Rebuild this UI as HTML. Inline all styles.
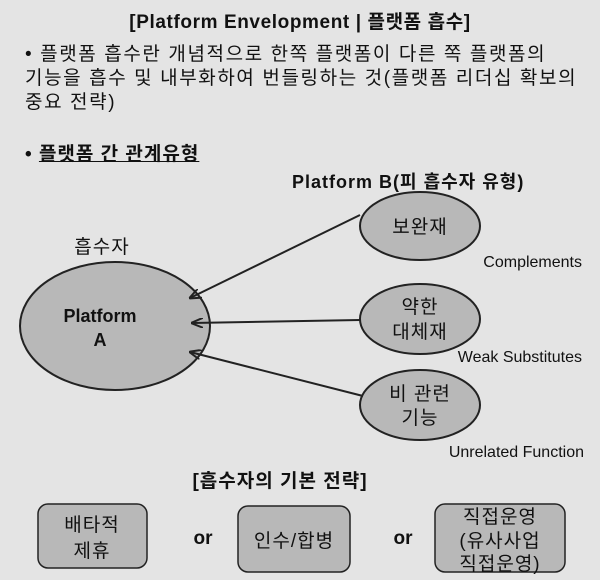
<!DOCTYPE html>
<html><head><meta charset="utf-8"><style>
body{margin:0;width:600px;height:580px;background:#e4e4e4;font-family:"Liberation Sans","Noto Sans CJK KR",sans-serif;color:#111;position:relative;overflow:hidden}
.t{position:absolute;white-space:nowrap}
</style></head><body>
<div class="t" style="left:0;width:600px;text-align:center;top:7px;font-size:19px;font-weight:bold;letter-spacing:0.6px">[Platform Envelopment | 플랫폼 흡수]</div>
<div class="t" style="left:25px;top:43px;font-size:19px;line-height:24px;letter-spacing:1.6px">• 플랫폼 흡수란 개념적으로 한쪽 플랫폼이 다른 쪽 플랫폼의<br>기능을 흡수 및 내부화하여 번들링하는 것(플랫폼 리더십 확보의<br>중요 전략)</div>
<div class="t" style="left:25px;top:139px;font-size:19px;font-weight:bold;letter-spacing:1px">• <span style="text-decoration:underline">플랫폼 간 관계유형</span></div>
<svg width="600" height="580" style="position:absolute;left:0;top:0" font-family="Liberation Sans, Noto Sans CJK KR, sans-serif">
<defs><marker id="a" markerWidth="12" markerHeight="10" refX="11" refY="5" orient="auto" markerUnits="userSpaceOnUse"><path d="M0,0 L12,5 L0,10" fill="none" stroke="#222" stroke-width="2"/></marker></defs>
<ellipse cx="115" cy="326" rx="95" ry="64" fill="#b8b8b8" stroke="#222" stroke-width="2"/>
<ellipse cx="420" cy="226" rx="60" ry="34" fill="#b8b8b8" stroke="#222" stroke-width="2"/>
<ellipse cx="420" cy="319" rx="60" ry="35" fill="#b8b8b8" stroke="#222" stroke-width="2"/>
<ellipse cx="420" cy="405" rx="60" ry="35" fill="#b8b8b8" stroke="#222" stroke-width="2"/>
<line x1="360" y1="215" x2="190" y2="298" stroke="#222" stroke-width="2" marker-end="url(#a)"/>
<line x1="360" y1="320" x2="192" y2="323" stroke="#222" stroke-width="2" marker-end="url(#a)"/>
<line x1="363" y1="396" x2="190" y2="352" stroke="#222" stroke-width="2" marker-end="url(#a)"/>
<g font-size="17" fill="#111">
<text x="292" y="188" font-weight="bold" font-size="18" letter-spacing="1">Platform B(피 흡수자 유형)</text>
<text x="102" y="253" text-anchor="middle" font-size="19" letter-spacing="1">흡수자</text>
<text x="100" y="322" text-anchor="middle" font-weight="bold" font-size="18">Platform</text>
<text x="100" y="346" text-anchor="middle" font-weight="bold" font-size="18">A</text>
<text x="420" y="233" text-anchor="middle" font-size="19" letter-spacing="1">보완재</text>
<text x="420" y="313" text-anchor="middle" font-size="19" letter-spacing="1">약한</text>
<text x="420" y="338" text-anchor="middle" font-size="19" letter-spacing="1">대체재</text>
<text x="420" y="400" text-anchor="middle" font-size="19" letter-spacing="1">비 관련</text>
<text x="420" y="424" text-anchor="middle" font-size="19" letter-spacing="1">기능</text>
<text x="582" y="267" text-anchor="end" font-size="16">Complements</text>
<text x="582" y="362" text-anchor="end" font-size="16">Weak Substitutes</text>
<text x="584" y="457" text-anchor="end" font-size="16">Unrelated Function</text>
<text x="280" y="487" text-anchor="middle" font-weight="bold" font-size="19" letter-spacing="1">[흡수자의 기본 전략]</text>
</g>
<rect x="38" y="504" width="109" height="64" rx="10" fill="#b8b8b8" stroke="#222" stroke-width="1.5"/>
<rect x="238" y="506" width="112" height="66" rx="10" fill="#b8b8b8" stroke="#222" stroke-width="1.5"/>
<rect x="435" y="504" width="130" height="68" rx="10" fill="#b8b8b8" stroke="#222" stroke-width="1.5"/>
<g font-size="19" fill="#111" text-anchor="middle" letter-spacing="1">
<text x="92" y="531">배타적</text><text x="92" y="557">제휴</text>
<text x="203" y="544" font-weight="bold" letter-spacing="0">or</text>
<text x="294" y="547">인수/합병</text>
<text x="403" y="544" font-weight="bold" letter-spacing="0">or</text>
<text x="500" y="523">직접운영</text><text x="500" y="547">(유사사업</text><text x="500" y="570">직접운영)</text>
</g>
</svg>
</body></html>
